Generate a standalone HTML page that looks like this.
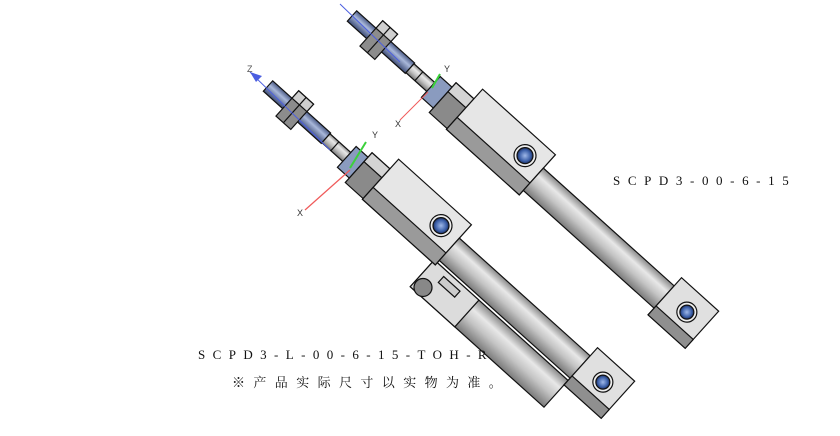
<!DOCTYPE html>
<html><head><meta charset="utf-8"><style>
html,body{margin:0;padding:0;background:#fff;width:840px;height:436px;overflow:hidden}
svg{position:absolute;left:0;top:0}
.t{font-family:"Liberation Serif","Noto Serif CJK SC",serif;font-size:13px;fill:#111}
</style></head><body>
<svg width="840" height="436" viewBox="0 0 840 436" xmlns="http://www.w3.org/2000/svg">
<defs>
<linearGradient id="tube" x1="0" y1="0" x2="0" y2="1">
<stop offset="0" stop-color="#8a8a8a"/><stop offset=".3" stop-color="#e8e8e8"/><stop offset=".6" stop-color="#c4c4c4"/><stop offset="1" stop-color="#7a7a7a"/></linearGradient>
<linearGradient id="thr" x1="0" y1="0" x2="0" y2="1">
<stop offset="0" stop-color="#4a5a85"/><stop offset=".4" stop-color="#a9b8da"/><stop offset="1" stop-color="#3d4c76"/></linearGradient>
<radialGradient id="hole"><stop offset="0" stop-color="#9fb8e8"/><stop offset=".7" stop-color="#3b5fa8"/><stop offset="1" stop-color="#1d2f60"/></radialGradient>
<g id="cyl" stroke="#111" stroke-width="1.2">
 <rect x="0" y="-7" width="78" height="14" fill="url(#thr)"/>
 <rect x="26" y="-17" width="20" height="34" fill="#8c8c8c"/>
 <rect x="26" y="-17" width="20" height="10" fill="#cfcfcf"/>
 <line x1="36" y1="-17" x2="36" y2="17"/>
 <rect x="78" y="-6" width="30" height="12" fill="url(#tube)"/>
 <line x1="90" y1="-6" x2="90" y2="6"/>
 <rect x="106" y="-14" width="16" height="28" fill="#8a9bbf"/>
 <rect x="122" y="-20" width="24" height="40" fill="#8a8a8a"/>
 <rect x="122" y="-20" width="24" height="12" fill="#d4d4d4"/>
 <rect x="146" y="-33" width="98" height="54" fill="#e6e6e6"/>
 <rect x="146" y="5" width="98" height="16" fill="#9a9a9a"/>
 <circle cx="222" cy="-12" r="11" fill="#eee"/>
 <circle cx="222" cy="-12" r="8" fill="url(#hole)"/>
 <rect x="244" y="-15" width="176" height="30" fill="url(#tube)"/>
 <rect x="420" y="-26" width="50" height="50" fill="#e0e0e0"/>
 <rect x="420" y="12" width="50" height="12" fill="#8f8f8f"/>
 <circle cx="447" cy="-4" r="10" fill="#eee"/>
 <circle cx="447" cy="-4" r="7" fill="url(#hole)"/>
</g>
</defs>
<use href="#cyl" transform="translate(352,16) rotate(42)"/>
<line x1="340" y1="4" x2="400" y2="62" stroke="#4b5ee0" stroke-width="1"/>
<line x1="428" y1="92" x2="400" y2="120" stroke="#f05a5a" stroke-width="1"/>
<line x1="432" y1="88" x2="440" y2="74" stroke="#3bd13b" stroke-width="2"/>
<text x="395" y="127" font-family="Liberation Sans" font-size="9" fill="#333">X</text>
<text x="444" y="72" font-family="Liberation Sans" font-size="9" fill="#333">Y</text>
<g transform="translate(268,86) rotate(42)" stroke="#111" stroke-width="1.2">
 <rect x="240" y="18" width="180" height="36" fill="url(#tube)"/>
 <rect x="240" y="18" width="60" height="36" fill="#dcdcdc"/>
 <circle cx="250" cy="46" r="9" fill="#888"/>
 <rect x="258" y="24" width="22" height="8" fill="#ccc"/>
</g>
<use href="#cyl" transform="translate(268,86) rotate(42)"/>
<line x1="250" y1="72" x2="330" y2="150" stroke="#4b5ee0" stroke-width="1"/>
<polygon points="250,72 262,76 256,82" fill="#4b5ee0"/>
<line x1="350" y1="170" x2="305" y2="210" stroke="#f05a5a" stroke-width="1.2"/>
<line x1="350" y1="168" x2="366" y2="142" stroke="#3bd13b" stroke-width="2"/>
<text x="247" y="72" font-family="Liberation Sans" font-size="9" fill="#555">Z</text>
<text x="297" y="216" font-family="Liberation Sans" font-size="9" fill="#333">X</text>
<text x="372" y="138" font-family="Liberation Sans" font-size="9" fill="#333">Y</text>
<text class="t" x="613" y="185" letter-spacing="7.6">SCPD3-00-6-15</text>
<text class="t" x="198" y="359" letter-spacing="7.4">SCPD3-L-00-6-15-TOH-R</text>
<text class="t" x="232" y="387" letter-spacing="8.4">※产品实际尺寸以实物为准。</text>
</svg>
</body></html>
